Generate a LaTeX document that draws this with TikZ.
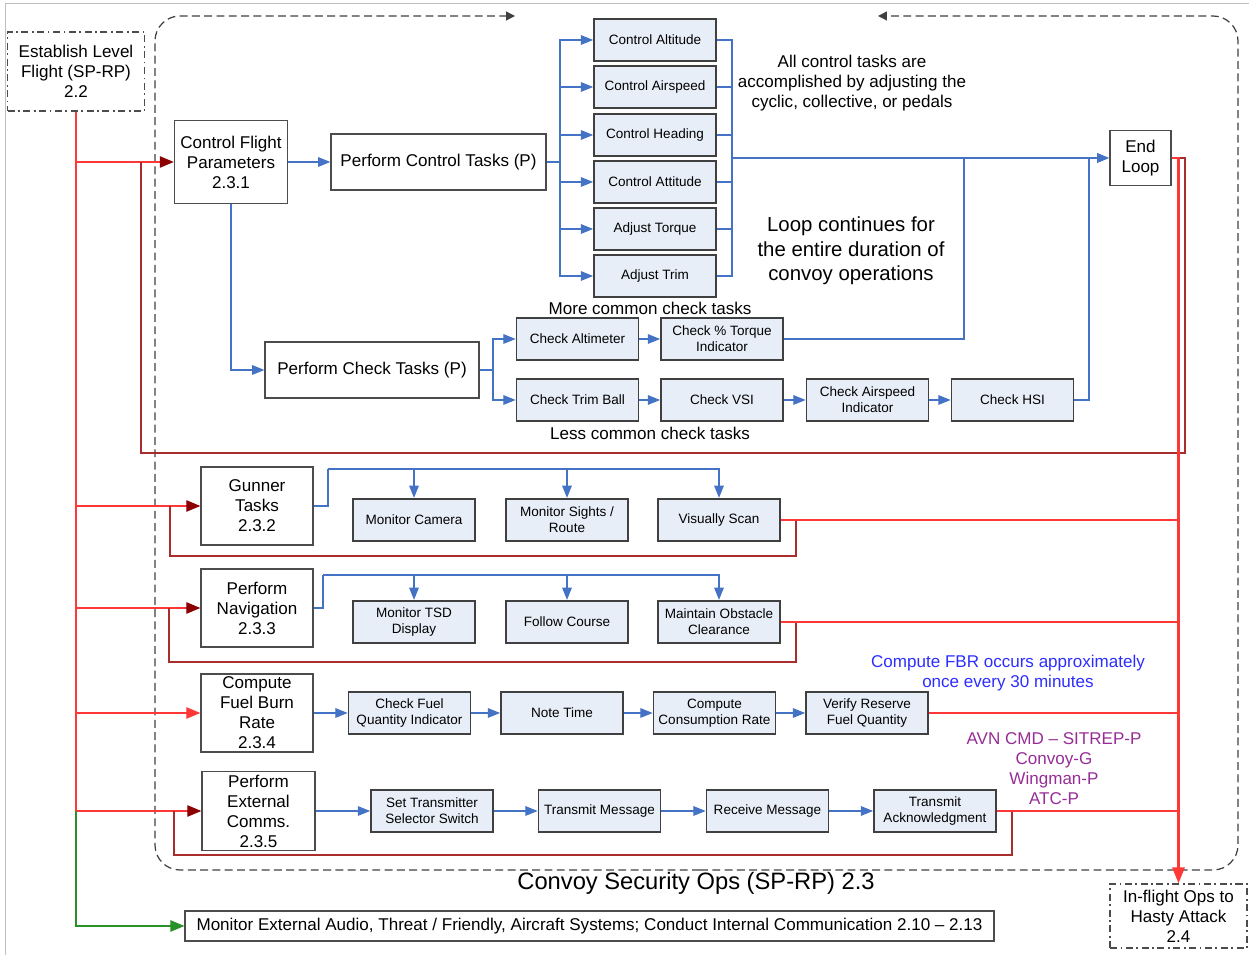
\documentclass[tikz,border=0pt]{standalone}
\usepackage{fontspec}
\setmainfont{Liberation Sans}
\usepackage{tikz}
\usetikzlibrary{arrows.meta}
\definecolor{taskblue}{RGB}{232,238,248}
\definecolor{linkblue}{RGB}{68,114,196}
\definecolor{loopred}{RGB}{255,55,55}
\definecolor{backred}{RGB}{170,45,45}
\definecolor{tipred}{RGB}{139,0,0}
\definecolor{notepurple}{RGB}{150,45,150}
\definecolor{noteblue}{RGB}{45,45,255}
\definecolor{monitorgreen}{RGB}{40,145,40}

\begin{document}
\begin{tikzpicture}[x=0.02cm, y=-0.02cm,
  every node/.style={font=\fontsize{9.7}{11.4}\selectfont, align=center},
  bigbox/.style={draw=black!70, line width=0.75pt, fill=white},
  dashdot/.style={dash pattern=on 4pt off 2pt on 1pt off 2pt},
  smallbox/.style={draw=black!75, line width=1pt, fill=taskblue, minimum width=2.44cm,
    minimum height=0.85cm, inner sep=1pt, font=\fontsize{7.7}{9.1}\selectfont},
  link/.style={draw=linkblue, line width=0.6pt},
  linkto/.style={link, -{Triangle[length=7pt, width=5.5pt]}},
  feed/.style={draw=loopred, line width=0.7pt},
  feedto/.style={feed, -{Triangle[length=8pt, width=6.5pt, color=tipred]}},
  back/.style={draw=backred, line width=0.7pt},
  frame/.style={draw=black!75, line width=0.7pt, dash pattern=on 4.5pt off 2.5pt,
    rounded corners=0.5cm, -{Triangle[length=5pt, width=5pt]}}]

\useasboundingbox (0,0) rectangle (1249,955);
\draw[black!25] (5,955) -- (5,3) -- (1249,3);

\node (est) at (76,71.5) [bigbox, dashdot, minimum width=2.74cm, minimum height=1.58cm] {Establish Level\\Flight (SP-RP)\\2.2};
\node (cfp) at (231,162) [bigbox, minimum width=2.26cm, minimum height=1.66cm] {Control Flight\\Parameters\\2.3.1};
\node (pct) at (438.5,162) [bigbox, minimum width=4.3cm, minimum height=1.12cm] {Perform Control Tasks (P)};
\node (pck) at (372,370) [bigbox, minimum width=4.28cm, minimum height=1.12cm] {Perform Check Tasks (P)};
\node (endl) at (1140.5,158) [bigbox, minimum width=1.22cm, minimum height=1.1cm] {End\\Loop};

\node (calt) at (655,40) [smallbox, minimum height=0.84cm] {Control Altitude};
\node (casp) at (655,87) [smallbox, minimum height=0.84cm] {Control Airspeed};
\node (chdg) at (655,135) [smallbox, minimum height=0.84cm] {Control Heading};
\node (catt) at (655,182) [smallbox, minimum height=0.84cm] {Control Attitude};
\node (atrq) at (655,229) [smallbox, minimum height=0.84cm] {Adjust Torque};
\node (atrm) at (655,276) [smallbox, minimum height=0.84cm] {Adjust Trim};

\node (kalt) at (577.5,339) [smallbox] {Check Altimeter};
\node (ktrq) at (722,339) [smallbox] {Check \% Torque\\Indicator};
\node (ktrm) at (577.5,400) [smallbox] {Check Trim Ball};
\node (kvsi) at (722,400) [smallbox] {Check VSI};
\node (kasp) at (867.5,400) [smallbox] {Check Airspeed\\Indicator};
\node (khsi) at (1012.5,400) [smallbox] {Check HSI};

\node (gun) at (257,506) [bigbox, minimum width=2.24cm, minimum height=1.56cm] {Gunner\\Tasks\\2.3.2};
\node (mcam) at (414,520) [smallbox] {Monitor Camera};
\node (msr) at (567,520) [smallbox] {Monitor Sights /\\Route};
\node (vscan) at (719,520) [smallbox] {Visually Scan};

\node (nav) at (257,608) [bigbox, minimum width=2.24cm, minimum height=1.56cm] {Perform\\Navigation\\2.3.3};
\node (tsd) at (414,622) [smallbox] {Monitor TSD\\Display};
\node (crs) at (567,622) [smallbox] {Follow Course};
\node (obst) at (719,622) [smallbox] {Maintain Obstacle\\Clearance};

\node (fbr) at (257,713) [bigbox, inner sep=0pt, minimum width=2.24cm, minimum height=1.56cm] {Compute\\Fuel Burn\\Rate\\2.3.4};
\node (cfq) at (409.5,713) [smallbox, minimum height=0.84cm] {Check Fuel\\Quantity Indicator};
\node (ntm) at (562,713) [smallbox, minimum height=0.84cm] {Note Time};
\node (ccr) at (714.5,713) [smallbox, minimum height=0.84cm] {Compute\\Consumption Rate};
\node (vrf) at (867,713) [smallbox, minimum height=0.84cm] {Verify Reserve\\Fuel Quantity};

\node (ext) at (258.5,811) [bigbox, inner sep=0pt, minimum width=2.26cm, minimum height=1.58cm] {Perform\\External\\Comms.\\2.3.5};
\node (stx) at (432,811) [smallbox] {Set Transmitter\\Selector Switch};
\node (tmsg) at (599.5,811) [smallbox] {Transmit Message};
\node (rmsg) at (767.5,811) [smallbox] {Receive Message};
\node (tack) at (935,811) [smallbox] {Transmit\\Acknowledgment};

\node (mon) at (589.5,926) [bigbox, minimum width=16.18cm, minimum height=0.6cm] {Monitor External Audio, Threat / Friendly, Aircraft Systems; Conduct Internal Communication 2.10 -- 2.13};
\node (hasty) at (1178.5,916) [bigbox, dashdot, minimum width=2.74cm, minimum height=1.2cm] {In-flight Ops to\\Hasty Attack\\2.4};

\node (allctl) at (852,83) {All control tasks are\\accomplished by adjusting the\\cyclic, collective, or pedals};
\node (loopnote) at (851,251) [font=\fontsize{11.6}{14}\selectfont] {Loop continues for\\the entire duration of\\convoy operations};
\node (more) at (650,308) {More common check tasks};
\node (less) at (650,433) {Less common check tasks};
\node (fbrnote) at (1008,673) [text=noteblue] {Compute FBR occurs approximately\\once every 30 minutes};
\node (calls) at (1054,769) [text=notepurple] {AVN CMD -- SITREP-P\\Convoy-G\\Wingman-P\\ATC-P};
\node (ttl) at (696,883) [font=\fontsize{13.5}{16}\selectfont] {Convoy Security Ops (SP-RP) 2.3};

\draw[frame] (700,870) -- (155,870) -- (155,16) -- (515,16);
\draw[frame] (700,870) -- (1238,870) -- (1238,16) -- (878,16);

\coordinate (sc) at (560,162);
\coordinate (jc) at (732,158);
\draw[linkto] (cfp) -- (pct);
\draw[link] (pct) -- (sc);
\draw[linkto] (sc) |- (calt);
\draw[linkto] (sc) |- (casp);
\draw[linkto] (sc) |- (chdg);
\draw[linkto] (sc) |- (catt);
\draw[linkto] (sc) |- (atrq);
\draw[linkto] (sc) |- (atrm);
\draw[link] (calt) -| (jc);
\draw[link] (casp) -| (jc);
\draw[link] (chdg) -| (jc);
\draw[link] (catt) -| (jc);
\draw[link] (atrq) -| (jc);
\draw[link] (atrm) -| (jc);
\draw[linkto, line width=1.1pt] (jc) -- (endl);

\coordinate (sk) at (493,370);
\coordinate (jt) at (964,158);
\coordinate (jh) at (1089,158);
\draw[linkto] (cfp) |- (pck);
\draw[link] (pck) -- (sk);
\draw[linkto] (sk) |- (kalt);
\draw[linkto] (sk) |- (ktrm);
\draw[linkto] (kalt) -- (ktrq);
\draw[linkto] (ktrm) -- (kvsi);
\draw[linkto] (kvsi) -- (kasp);
\draw[linkto] (kasp) -- (khsi);
\draw[link] (ktrq) -| (jt);
\draw[link] (khsi) -| (jh);

\coordinate (sg) at (328,469);
\draw[link] (gun) -| (sg);
\draw[linkto] (sg) -| (mcam);
\draw[linkto] (sg) -| (msr);
\draw[linkto] (sg) -| (vscan);

\coordinate (sn) at (323,575);
\draw[link] (nav) -| (sn);
\draw[linkto] (sn) -| (tsd);
\draw[linkto] (sn) -| (crs);
\draw[linkto] (sn) -| (obst);

\draw[linkto] (fbr) -- (cfq);
\draw[linkto] (cfq) -- (ntm);
\draw[linkto] (ntm) -- (ccr);
\draw[linkto] (ccr) -- (vrf);

\draw[linkto] (ext) -- (stx);
\draw[linkto] (stx) -- (tmsg);
\draw[linkto] (tmsg) -- (rmsg);
\draw[linkto] (rmsg) -- (tack);

\coordinate (rt) at (est.south |- ext.west);
\draw[feed] (est) -- (rt);
\draw[feedto] (est.south |- cfp.west) -- (cfp);
\draw[feedto] (est.south |- gun.west) -- (gun);
\draw[feedto] (est.south |- nav.west) -- (nav);
\draw[feed, -{Triangle[length=8pt, width=6.5pt]}] (est.south |- fbr.west) -- (fbr);
\draw[feedto] (rt) -- (ext);
\draw[draw=monitorgreen, line width=0.7pt, -{Triangle[length=8pt, width=6.5pt]}] (rt) |- (mon);

\coordinate (b1) at (1185,453);
\coordinate (b2) at (141,453);
\draw[back] (endl) -| (b1) -- (b2) -- (b2 |- cfp.west);
\draw[feed, line width=1.2pt, -{Triangle[length=9pt, width=7pt]}] (endl) -| (hasty);

\coordinate (g1) at (796,556);
\coordinate (g2) at (170,556);
\draw[back] (vscan) -| (g1) -- (g2) -- (g2 |- gun.west);
\draw[feed] (vscan) -- (vscan.east -| hasty.north);

\coordinate (n1) at (796,662);
\coordinate (n2) at (169,662);
\draw[back] (obst) -| (n1) -- (n2) -- (n2 |- nav.west);
\draw[feed] (obst) -- (obst.east -| hasty.north);

\draw[feed] (vrf) -- (vrf.east -| hasty.north);

\coordinate (e1) at (1012,855);
\coordinate (e2) at (174,855);
\draw[back] (tack) -| (e1) -- (e2) -- (e2 |- ext.west);
\draw[feed] (tack) -- (tack.east -| hasty.north);

\end{tikzpicture}
\end{document}
